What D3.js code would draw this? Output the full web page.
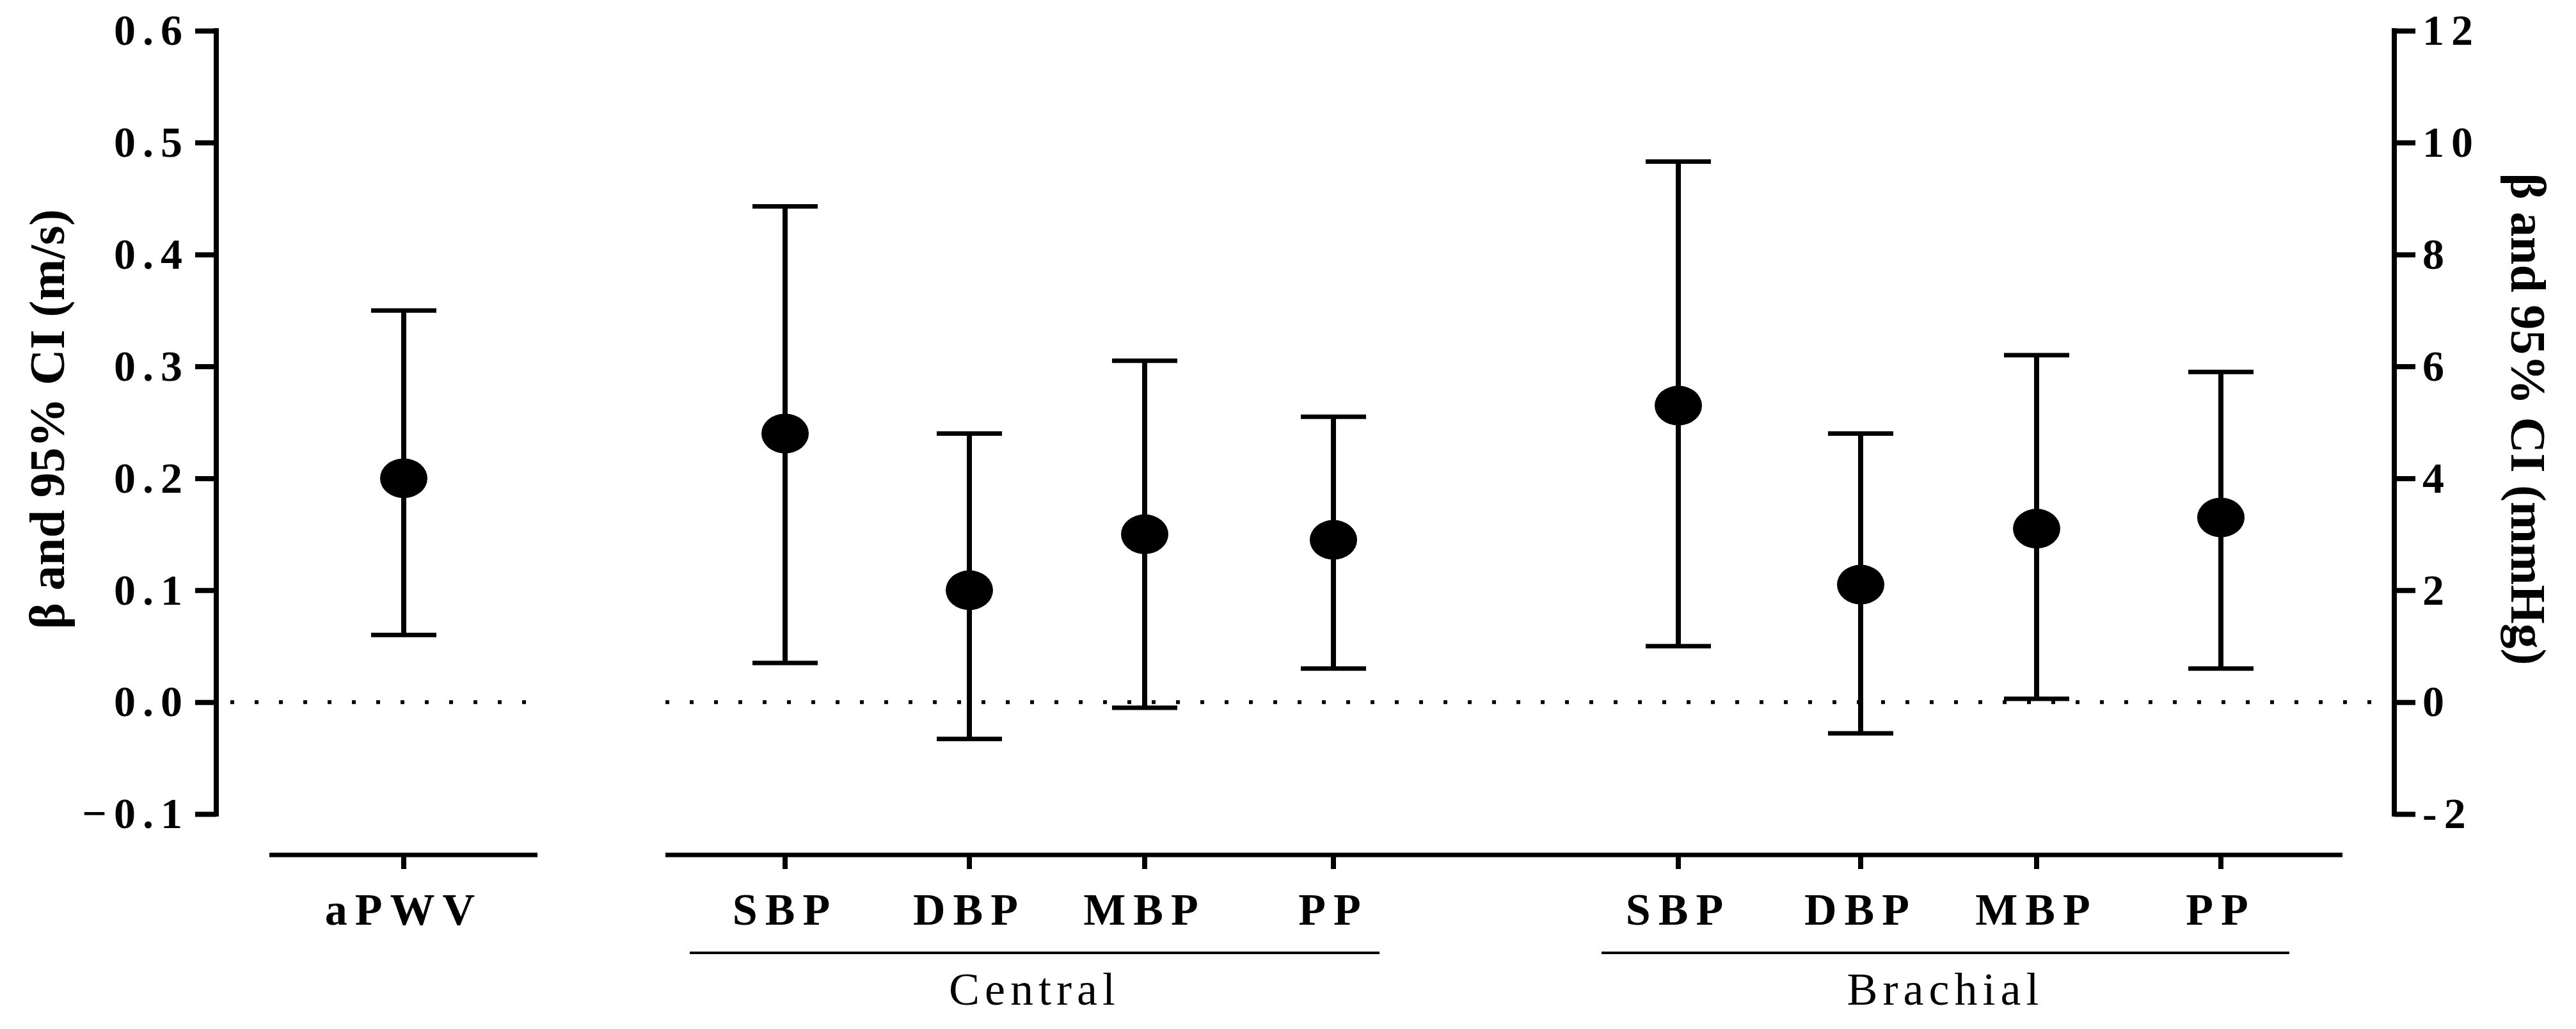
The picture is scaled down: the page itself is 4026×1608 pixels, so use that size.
<!DOCTYPE html><html><head><meta charset="utf-8">
<script src="https://cdn.jsdelivr.net/npm/d3@7"></script>
<style>body{margin:0;background:#fff}</style></head><body>
<svg id="c" width="4026" height="1608"></svg>
<script>
const leftTicks=[-0.1,0,0.1,0.2,0.3,0.4,0.5,0.6];
const rightTicks=[-2,0,2,4,6,8,10,12];
const pwv={label:"aPWV",mean:0.2,lo:0.06,hi:0.35};
const bpCats=["SBP","DBP","MBP","PP"];
const groups=["Central","Brachial"];
const centralMean=[4.8,2.0,3.0,2.9], centralLo=[0.7,-0.66,-0.1,0.6], centralHi=[8.86,4.8,6.1,5.1];
const brachialMean=[5.3,2.1,3.1,3.3], brachialLo=[1.0,-0.56,0.06,0.6], brachialHi=[9.66,4.8,6.2,5.9];

const svg=d3.select("#c");
const F="'Liberation Serif','Times New Roman',serif";
const yL=d3.scaleLinear().domain([-0.1,0.6]).range([1272,48]);
const yR=d3.scaleLinear().domain([-2,12]).range([1272,48]);
const xPos=d3.scaleOrdinal().domain(["aPWV","Central SBP","Central DBP","Central MBP","Central PP","Brachial SBP","Brachial DBP","Brachial MBP","Brachial PP"])
 .range([631,1227,1515,1789,2084,2623,2908,3183,3471]);
const LX=338,RX=3742;

const gl=svg.append("g").attr("transform",`translate(${LX},0)`)
 .call(d3.axisLeft(yL).tickValues(leftTicks).tickFormat(d3.format(".1f")).tickSize(33).tickSizeOuter(0));
const gr=svg.append("g").attr("transform",`translate(${RX},0)`)
 .call(d3.axisRight(yR).tickValues(rightTicks).tickFormat(d=>d).tickSize(33).tickSizeOuter(0));
[gl,gr].forEach(g=>{g.selectAll("path,line").attr("stroke","#000").attr("stroke-width",8);
 g.select(".domain").attr("d",g===gl?`M0,${yL(0.6)-4}V${yL(-0.1)+4}`:`M0,${yR(12)-4}V${yR(-2)+4}`);
 g.selectAll("text").attr("font-family",F).attr("font-weight","bold").attr("font-size",68).attr("letter-spacing",11).attr("fill","#000");});
gl.selectAll("text").attr("x",-42);
gr.selectAll("text").attr("x",44);

svg.append("text").attr("transform","translate(100,655) rotate(-90)").attr("text-anchor","middle")
 .attr("font-family",F).attr("font-weight","bold").attr("font-size",78).text("β and 95% CI (m/s)");
svg.append("text").attr("transform","translate(3925,655) rotate(90)").attr("text-anchor","middle")
 .attr("font-family",F).attr("font-weight","bold").attr("font-size",78).text("β and 95% CI (mmHg)");

svg.append("line").attr("x1",LX+22).attr("x2",827).attr("y1",yL(0)).attr("y2",yL(0))
 .attr("stroke","#000").attr("stroke-width",6).attr("stroke-dasharray","6,32");
svg.append("line").attr("x1",1040).attr("x2",RX-10).attr("y1",yR(0)).attr("y2",yR(0))
 .attr("stroke","#000").attr("stroke-width",6).attr("stroke-dasharray","6,32");

const BY=1336;
svg.append("line").attr("x1",421).attr("x2",840).attr("y1",BY).attr("y2",BY).attr("stroke","#000").attr("stroke-width",7);
svg.append("line").attr("x1",1040).attr("x2",3661).attr("y1",BY).attr("y2",BY).attr("stroke","#000").attr("stroke-width",7);

const pts=[{k:"aPWV",lab:"aPWV",m:yL(pwv.mean),lo:yL(pwv.lo),hi:yL(pwv.hi)}];
bpCats.forEach((c,i)=>pts.push({k:"Central "+c,lab:c,m:yR(centralMean[i]),lo:yR(centralLo[i]),hi:yR(centralHi[i])}));
bpCats.forEach((c,i)=>pts.push({k:"Brachial "+c,lab:c,m:yR(brachialMean[i]),lo:yR(brachialLo[i]),hi:yR(brachialHi[i])}));
const g=svg.append("g");
pts.forEach(p=>{const x=xPos(p.k);
 g.append("line").attr("x1",x).attr("x2",x).attr("y1",p.lo).attr("y2",p.hi).attr("stroke","#000").attr("stroke-width",8);
 [p.lo,p.hi].forEach(y=>g.append("line").attr("x1",x-51).attr("x2",x+51).attr("y1",y).attr("y2",y).attr("stroke","#000").attr("stroke-width",7));
 g.append("ellipse").attr("cx",x).attr("cy",p.m).attr("rx",37).attr("ry",31).attr("fill","#000");
 g.append("line").attr("x1",x).attr("x2",x).attr("y1",BY).attr("y2",BY+22).attr("stroke","#000").attr("stroke-width",8);
 g.append("text").attr("x",x).attr("y",1445).attr("text-anchor","middle").attr("font-family",F).attr("font-weight","bold")
  .attr("font-size",70).attr("letter-spacing",12).text(p.lab);
});
[[groups[0],1078,2156],[groups[1],2503,3578]].forEach(([t,a,b])=>{
 svg.append("line").attr("x1",a).attr("x2",b).attr("y1",1489).attr("y2",1489).attr("stroke","#000").attr("stroke-width",4);
 svg.append("text").attr("x",(a+b)/2).attr("y",1570).attr("text-anchor","middle").attr("font-family",F).attr("font-size",72).attr("letter-spacing",8).text(t);
});
</script></body></html>
